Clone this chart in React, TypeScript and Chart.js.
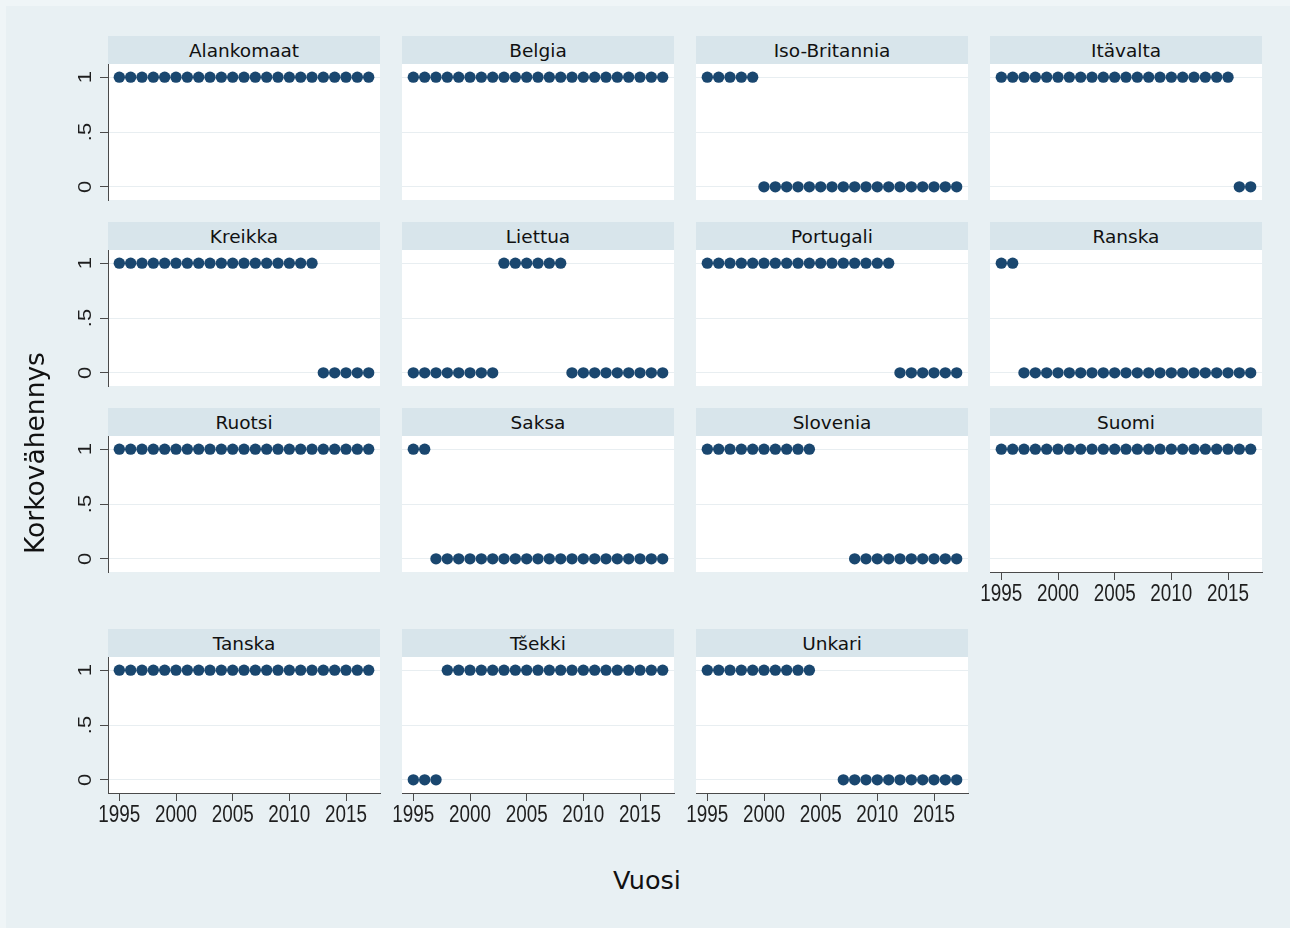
import React, { useEffect, useRef } from 'react';
import { Chart, registerables } from 'chart.js';

Chart.register(...registerables);

// ---------- data ----------
const years = [1995, 1996, 1997, 1998, 1999, 2000, 2001, 2002, 2003, 2004, 2005, 2006, 2007, 2008, 2009, 2010, 2011, 2012, 2013, 2014, 2015, 2016, 2017];

const countries = [
  'Alankomaat', 'Belgia', 'Iso-Britannia', 'Itävalta',
  'Kreikka', 'Liettua', 'Portugali', 'Ranska',
  'Ruotsi', 'Saksa', 'Slovenia', 'Suomi',
  'Tanska', 'Tšekki', 'Unkari',
];

const alankomaat = [1, 1, 1, 1, 1, 1, 1, 1, 1, 1, 1, 1, 1, 1, 1, 1, 1, 1, 1, 1, 1, 1, 1];
const belgia = [1, 1, 1, 1, 1, 1, 1, 1, 1, 1, 1, 1, 1, 1, 1, 1, 1, 1, 1, 1, 1, 1, 1];
const isoBritannia = [1, 1, 1, 1, 1, 0, 0, 0, 0, 0, 0, 0, 0, 0, 0, 0, 0, 0, 0, 0, 0, 0, 0];
const itavalta = [1, 1, 1, 1, 1, 1, 1, 1, 1, 1, 1, 1, 1, 1, 1, 1, 1, 1, 1, 1, 1, 0, 0];
const kreikka = [1, 1, 1, 1, 1, 1, 1, 1, 1, 1, 1, 1, 1, 1, 1, 1, 1, 1, 0, 0, 0, 0, 0];
const liettua = [0, 0, 0, 0, 0, 0, 0, 0, 1, 1, 1, 1, 1, 1, 0, 0, 0, 0, 0, 0, 0, 0, 0];
const portugali = [1, 1, 1, 1, 1, 1, 1, 1, 1, 1, 1, 1, 1, 1, 1, 1, 1, 0, 0, 0, 0, 0, 0];
const ranska = [1, 1, 0, 0, 0, 0, 0, 0, 0, 0, 0, 0, 0, 0, 0, 0, 0, 0, 0, 0, 0, 0, 0];
const ruotsi = [1, 1, 1, 1, 1, 1, 1, 1, 1, 1, 1, 1, 1, 1, 1, 1, 1, 1, 1, 1, 1, 1, 1];
const saksa = [1, 1, 0, 0, 0, 0, 0, 0, 0, 0, 0, 0, 0, 0, 0, 0, 0, 0, 0, 0, 0, 0, 0];
const slovenia = [1, 1, 1, 1, 1, 1, 1, 1, 1, 1, null, null, null, 0, 0, 0, 0, 0, 0, 0, 0, 0, 0];
const suomi = [1, 1, 1, 1, 1, 1, 1, 1, 1, 1, 1, 1, 1, 1, 1, 1, 1, 1, 1, 1, 1, 1, 1];
const tanska = [1, 1, 1, 1, 1, 1, 1, 1, 1, 1, 1, 1, 1, 1, 1, 1, 1, 1, 1, 1, 1, 1, 1];
const tsekki = [0, 0, 0, 1, 1, 1, 1, 1, 1, 1, 1, 1, 1, 1, 1, 1, 1, 1, 1, 1, 1, 1, 1];
const unkari = [1, 1, 1, 1, 1, 1, 1, 1, 1, 1, null, null, 0, 0, 0, 0, 0, 0, 0, 0, 0, 0, 0];

const seriesByCountry: (number | null)[][] = [
  alankomaat, belgia, isoBritannia, itavalta,
  kreikka, liettua, portugali, ranska,
  ruotsi, saksa, slovenia, suomi,
  tanska, tsekki, unkari,
];

const xTickValues = [1995, 2000, 2005, 2010, 2015];
const xTickLabels = ['1995', '2000', '2005', '2010', '2015'];
const yTickValues = [0, 0.5, 1];
const yTickLabels = ['0', '.5', '1'];
const xTitle = 'Vuosi';
const yTitle = 'Korkovähennys';

// ---------- style / layout ----------
const DOT = '#1a476f';
const AXIS = '#4a4a4a';
const GRID = '#e8eef1';
const STRIP = '#d8e5eb';
const BG = '#e8f0f3';
const OUTER = '#eff5f7';
const SANS = '"Liberation Sans", Arial, sans-serif';
const TITLE_FONT = '"DejaVu Sans", Verdana, sans-serif';
const TEXT = '#1e1e1e';

const COL_X = [108, 402, 696, 990];
const STRIP_TOP = [36, 222, 408, 629];
const STRIP_H = 28;
const PLOT_W = 272;
const PLOT_H = 136;
const Y_AXIS_W = 64;
const X_AXIS_H = 52;
const PAD_SIDE = 20;

const bgPlugin = {
  id: 'plotBg',
  beforeDraw(chart: any) {
    const { ctx, chartArea } = chart;
    ctx.save();
    ctx.fillStyle = '#ffffff';
    ctx.fillRect(chartArea.left, chartArea.top, chartArea.right - chartArea.left, chartArea.bottom - chartArea.top);
    ctx.restore();
  },
};

// Stata-style rotated (vertical) y tick labels, positioned by the chart's y scale
const yLabelPlugin = {
  id: 'yRotLabels',
  afterDraw(chart: any) {
    const { ctx, chartArea, scales } = chart;
    const ys = scales.y;
    ctx.save();
    ctx.fillStyle = TEXT;
    ctx.font = `22px ${SANS}`;
    ctx.textAlign = 'center';
    ctx.textBaseline = 'middle';
    yTickValues.forEach((v, i) => {
      const py = ys.getPixelForValue(v);
      ctx.save();
      ctx.translate(chartArea.left - 22, py);
      ctx.rotate(-Math.PI / 2);
      ctx.scale(1, 0.8);
      ctx.fillText(yTickLabels[i], 0, 0);
      ctx.restore();
    });
    ctx.restore();
  },
};

// Slightly condensed x tick labels, positioned by the chart's x scale
const xLabelPlugin = {
  id: 'xNarrowLabels',
  afterDraw(chart: any) {
    const { ctx, chartArea, scales } = chart;
    const xs = scales.x;
    ctx.save();
    ctx.fillStyle = TEXT;
    ctx.font = `23px ${SANS}`;
    ctx.textAlign = 'center';
    ctx.textBaseline = 'middle';
    xTickValues.forEach((v, i) => {
      const px = xs.getPixelForValue(v);
      ctx.save();
      ctx.translate(px, chartArea.bottom + 23);
      ctx.scale(0.82, 1);
      ctx.fillText(xTickLabels[i], 0, 0);
      ctx.restore();
    });
    ctx.restore();
  },
};

function Panel({ idx }: { idx: number }) {
  const ref = useRef<HTMLCanvasElement>(null);
  const col = idx % 4;
  const row = Math.floor(idx / 4);
  const hasY = col === 0;
  const hasX = idx >= 11;
  const padL = hasY ? Y_AXIS_W : PAD_SIDE;
  const width = padL + PLOT_W + PAD_SIDE;
  const height = PLOT_H + (hasX ? X_AXIS_H : 0) + 2;
  const left = COL_X[col] - padL;
  const top = STRIP_TOP[row] + STRIP_H;

  useEffect(() => {
    if (!ref.current) return;
    const values = seriesByCountry[idx];
    const points = years
      .map((yr, i) => ({ x: yr, y: values[i] }))
      .filter((p) => p.y !== null);
    const plugins: any[] = [bgPlugin];
    if (hasY) plugins.push(yLabelPlugin);
    if (hasX) plugins.push(xLabelPlugin);
    const chart = new Chart(ref.current, {
      type: 'scatter',
      data: {
        datasets: [
          {
            data: points as any,
            pointRadius: 5.7,
            pointHoverRadius: 5.7,
            pointBackgroundColor: DOT,
            pointBorderColor: DOT,
            pointBorderWidth: 0,
            clip: false as any,
          },
        ],
      },
      options: {
        animation: false,
        responsive: false,
        maintainAspectRatio: false,
        events: [],
        layout: { autoPadding: false, padding: { left: hasY ? 0 : padL, right: PAD_SIDE, top: 0, bottom: 2 } },
        plugins: {
          legend: { display: false },
          tooltip: { enabled: false },
          title: { display: false },
        },
        scales: {
          x: {
            type: 'linear',
            min: 1994,
            max: 2018,
            display: hasX,
            afterBuildTicks: (s: any) => {
              s.ticks = xTickValues.map((v) => ({ value: v }));
            },
            afterFit: (s: any) => {
              s.height = hasX ? X_AXIS_H : 0;
            },
            grid: {
              drawOnChartArea: false,
              drawTicks: true,
              tickLength: 8,
              tickColor: AXIS,
              lineWidth: 1,
            },
            border: { display: true, color: AXIS, width: 1 },
            ticks: { display: false },
          },
          y: {
            type: 'linear',
            min: -0.12,
            max: 1.12,
            display: true,
            afterBuildTicks: (s: any) => {
              s.ticks = yTickValues.map((v) => ({ value: v }));
            },
            afterFit: (s: any) => {
              s.width = hasY ? Y_AXIS_W : 0;
            },
            grid: {
              color: GRID,
              lineWidth: 1,
              drawTicks: hasY,
              tickLength: 8,
              tickColor: AXIS,
            },
            border: { display: hasY, color: AXIS, width: 1 },
            ticks: { display: false },
          },
        },
      } as any,
      plugins,
    });
    return () => chart.destroy();
  }, [idx]);

  return (
    <>
      <div
        style={{
          position: 'absolute',
          left: COL_X[col],
          top: STRIP_TOP[row],
          width: PLOT_W,
          height: STRIP_H,
          background: STRIP,
          color: '#111',
          fontFamily: TITLE_FONT,
          fontSize: 18.5,
          lineHeight: `${STRIP_H + 1}px`,
          textAlign: 'center',
          whiteSpace: 'nowrap',
        }}
      >
        {countries[idx]}
      </div>
      <canvas
        ref={ref}
        width={width}
        height={height}
        style={{ position: 'absolute', left, top, width, height }}
      />
    </>
  );
}

export default function App() {
  return (
    <div
      style={{
        position: 'absolute',
        left: 0,
        top: 0,
        width: 1290,
        height: 928,
        background: OUTER,
        overflow: 'hidden',
      }}
    >
      <div style={{ position: 'absolute', left: 6, top: 6, width: 1284, height: 922, background: BG }} />
      {countries.map((_, i) => (
        <Panel key={i} idx={i} />
      ))}
      <div
        style={{
          position: 'absolute',
          left: 35 - 150,
          top: 453 - 16,
          width: 300,
          height: 32,
          lineHeight: '32px',
          textAlign: 'center',
          transform: 'rotate(-90deg)',
          fontFamily: TITLE_FONT,
          fontSize: 26.5,
          color: '#111',
          whiteSpace: 'nowrap',
        }}
      >
        {yTitle}
      </div>
      <div
        style={{
          position: 'absolute',
          left: 647 - 100,
          top: 880 - 16,
          width: 200,
          height: 32,
          lineHeight: '32px',
          textAlign: 'center',
          fontFamily: TITLE_FONT,
          fontSize: 25.5,
          color: '#111',
          whiteSpace: 'nowrap',
        }}
      >
        {xTitle}
      </div>
    </div>
  );
}
